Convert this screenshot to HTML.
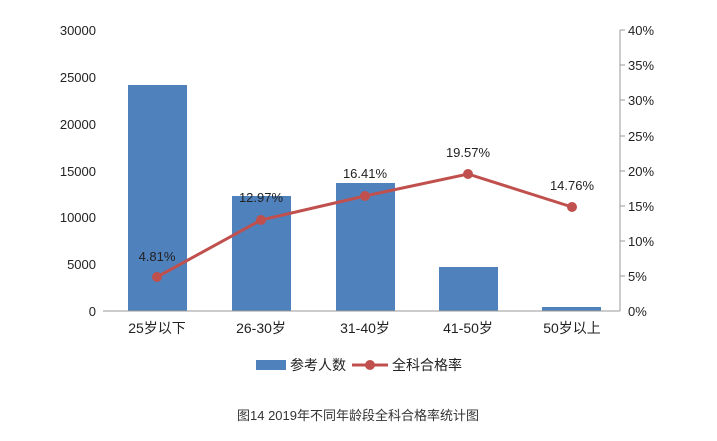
<!DOCTYPE html>
<html><head><meta charset="utf-8"><style>
body{margin:0;background:#fff;}
svg text{font-family:"Liberation Sans","Noto Sans CJK SC",sans-serif;}
</style></head><body>
<svg width="717" height="436" viewBox="0 0 717 436" xmlns="http://www.w3.org/2000/svg">
<rect width="717" height="436" fill="#fff"/>
<g font-size="13" fill="#222" text-anchor="end">
<text x="96" y="35">30000</text>
<text x="96" y="82">25000</text>
<text x="96" y="129">20000</text>
<text x="96" y="176">15000</text>
<text x="96" y="222">10000</text>
<text x="96" y="269">5000</text>
<text x="96" y="316">0</text>
</g>
<g font-size="13" fill="#222">
<text x="628" y="35">40%</text>
<text x="628" y="70">35%</text>
<text x="628" y="105">30%</text>
<text x="628" y="141">25%</text>
<text x="628" y="176">20%</text>
<text x="628" y="211">15%</text>
<text x="628" y="246">10%</text>
<text x="628" y="281">5%</text>
<text x="628" y="316">0%</text>
</g>
<line x1="620" y1="30" x2="620" y2="311" stroke="#999"/>
<g stroke="#999"><line x1="620" y1="30" x2="625" y2="30"/><line x1="620" y1="65" x2="625" y2="65"/><line x1="620" y1="100" x2="625" y2="100"/><line x1="620" y1="136" x2="625" y2="136"/><line x1="620" y1="171" x2="625" y2="171"/><line x1="620" y1="206" x2="625" y2="206"/><line x1="620" y1="241" x2="625" y2="241"/><line x1="620" y1="276" x2="625" y2="276"/></g>
<g fill="#4f81bd">
<rect x="128" y="85" width="59" height="226"/>
<rect x="232" y="196" width="59" height="115"/>
<rect x="336" y="183" width="59" height="128"/>
<rect x="439" y="267" width="59" height="44"/>
<rect x="542" y="307" width="59" height="4"/>
</g>
<line x1="103" y1="311" x2="620" y2="311" stroke="#999"/>
<polyline points="157,277 261,220 365,196 468,174 572,207" fill="none" stroke="#c0504d" stroke-width="3"/>
<g fill="#c0504d"><circle cx="157" cy="277" r="5"/><circle cx="261" cy="220" r="5"/><circle cx="365" cy="196" r="5"/><circle cx="468" cy="174" r="5"/><circle cx="572" cy="207" r="5"/></g>
<g font-size="13" fill="#222" text-anchor="middle">
<text x="157" y="261">4.81%</text>
<text x="261" y="202">12.97%</text>
<text x="365" y="178">16.41%</text>
<text x="468" y="157">19.57%</text>
<text x="572" y="190">14.76%</text>
</g>
<g font-size="14" fill="#222" text-anchor="middle">
<text x="157" y="333">25岁以下</text>
<text x="261" y="333">26-30岁</text>
<text x="365" y="333">31-40岁</text>
<text x="468" y="333">41-50岁</text>
<text x="572" y="333">50岁以上</text>
</g>
<rect x="256" y="360" width="30" height="10" fill="#4f81bd"/>
<text x="290" y="370" font-size="14" fill="#222">参考人数</text>
<line x1="352" y1="365" x2="388" y2="365" stroke="#c0504d" stroke-width="3"/>
<circle cx="370" cy="365" r="5" fill="#c0504d"/>
<text x="392" y="370" font-size="14" fill="#222">全科合格率</text>
<text x="358" y="420" font-size="13" fill="#333" text-anchor="middle">图14  2019年不同年龄段全科合格率统计图</text>
</svg>
</body></html>
